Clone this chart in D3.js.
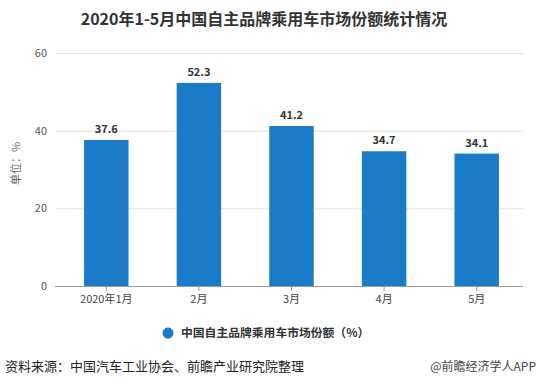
<!DOCTYPE html>
<html>
<head>
<meta charset="utf-8">
<script src="https://cdn.jsdelivr.net/npm/d3@7"></script>
<style>
  body { margin: 0; background: #fff; }
  text { font-family: "Noto Sans CJK SC", "Microsoft YaHei", sans-serif; }
</style>
</head>
<body>
<svg id="chart" width="538" height="387"></svg>
<script>
// data
var months = ['2020年1月', '2月', '3月', '4月', '5月'];
var share = [37.6, 52.3, 41.2, 34.7, 34.1];
var yTicks = [0, 20, 40, 60];

var svg = d3.select('#chart');
var plotLeft = 60, plotRight = 523, plotTop = 53, plotBottom = 286;

var x = d3.scaleBand().domain(months).range([plotLeft, plotRight])
    .paddingInner(0.52).paddingOuter(0.26);
var y = d3.scaleLinear().domain([0, 60]).range([plotBottom, plotTop]);

// title
svg.append('text')
    .attr('x', 264).attr('y', 25)
    .attr('text-anchor', 'middle')
    .style('font-size', '16px').style('font-weight', 'bold').style('fill', '#333')
    .text('2020年1-5月中国自主品牌乘用车市场份额统计情况');

// grid lines
svg.append('g').selectAll('line')
    .data(yTicks.filter(function (d) { return d > 0; }))
    .enter().append('line')
    .attr('x1', 55).attr('x2', plotRight)
    .attr('y1', function (d) { return y(d) + 0.5; }).attr('y2', function (d) { return y(d) + 0.5; })
    .attr('stroke', '#e0e0e0').attr('stroke-width', 1);

// y axis labels
svg.append('g').selectAll('text')
    .data(yTicks)
    .enter().append('text')
    .attr('x', 47).attr('y', function (d) { return y(d) + 4; })
    .attr('text-anchor', 'end')
    .style('font-size', '11px').style('fill', '#555')
    .text(function (d) { return d; });

svg.append('text')
    .attr('transform', 'translate(20,' + (y(30) - 6) + ') rotate(-90)')
    .attr('text-anchor', 'middle')
    .style('font-size', '11px').style('fill', '#666')
    .text('单位：%');

// bars
svg.append('g').selectAll('rect')
    .data(share)
    .enter().append('rect')
    .attr('x', function (d, i) { return x(months[i]); })
    .attr('y', function (d) { return y(d); })
    .attr('width', x.bandwidth())
    .attr('height', function (d) { return y(0) - y(d); })
    .attr('fill', '#1a7bc9');

// value labels
svg.append('g').selectAll('text')
    .data(share)
    .enter().append('text')
    .attr('x', function (d, i) { return x(months[i]) + x.bandwidth() / 2; })
    .attr('y', function (d) { return y(d) - 7; })
    .attr('text-anchor', 'middle')
    .style('font-size', '11px').style('font-weight', 'bold').style('fill', '#333')
    .text(function (d) { return d.toFixed(1); });

// x axis
var xAxis = svg.append('g')
    .attr('transform', 'translate(0,' + plotBottom + ')')
    .call(d3.axisBottom(x).tickSizeOuter(0).tickSize(5).tickPadding(4));
xAxis.select('.domain').attr('stroke', '#999').attr('d', 'M55,0.5H' + plotRight);
xAxis.selectAll('.tick line').attr('stroke', '#999');
xAxis.selectAll('.tick text')
    .style('font-size', '11px').style('fill', '#444')
    .style('font-family', '"Noto Sans CJK SC", sans-serif');

// legend
svg.append('circle')
    .attr('cx', 168).attr('cy', 333).attr('r', 5.5)
    .attr('fill', '#1a7bc9');
svg.append('text')
    .attr('x', 181).attr('y', 337)
    .style('font-size', '11.8px').style('font-weight', 'bold').style('fill', '#333')
    .text('中国自主品牌乘用车市场份额（%）');

// footer
svg.append('text')
    .attr('x', 5).attr('y', 371)
    .style('font-size', '13px').style('fill', '#222')
    .text('资料来源：中国汽车工业协会、前瞻产业研究院整理');
svg.append('text')
    .attr('x', 536).attr('y', 371)
    .attr('text-anchor', 'end')
    .style('font-size', '12px').style('fill', '#444')
    .text('@前瞻经济学人APP');
</script>
</body>
</html>
